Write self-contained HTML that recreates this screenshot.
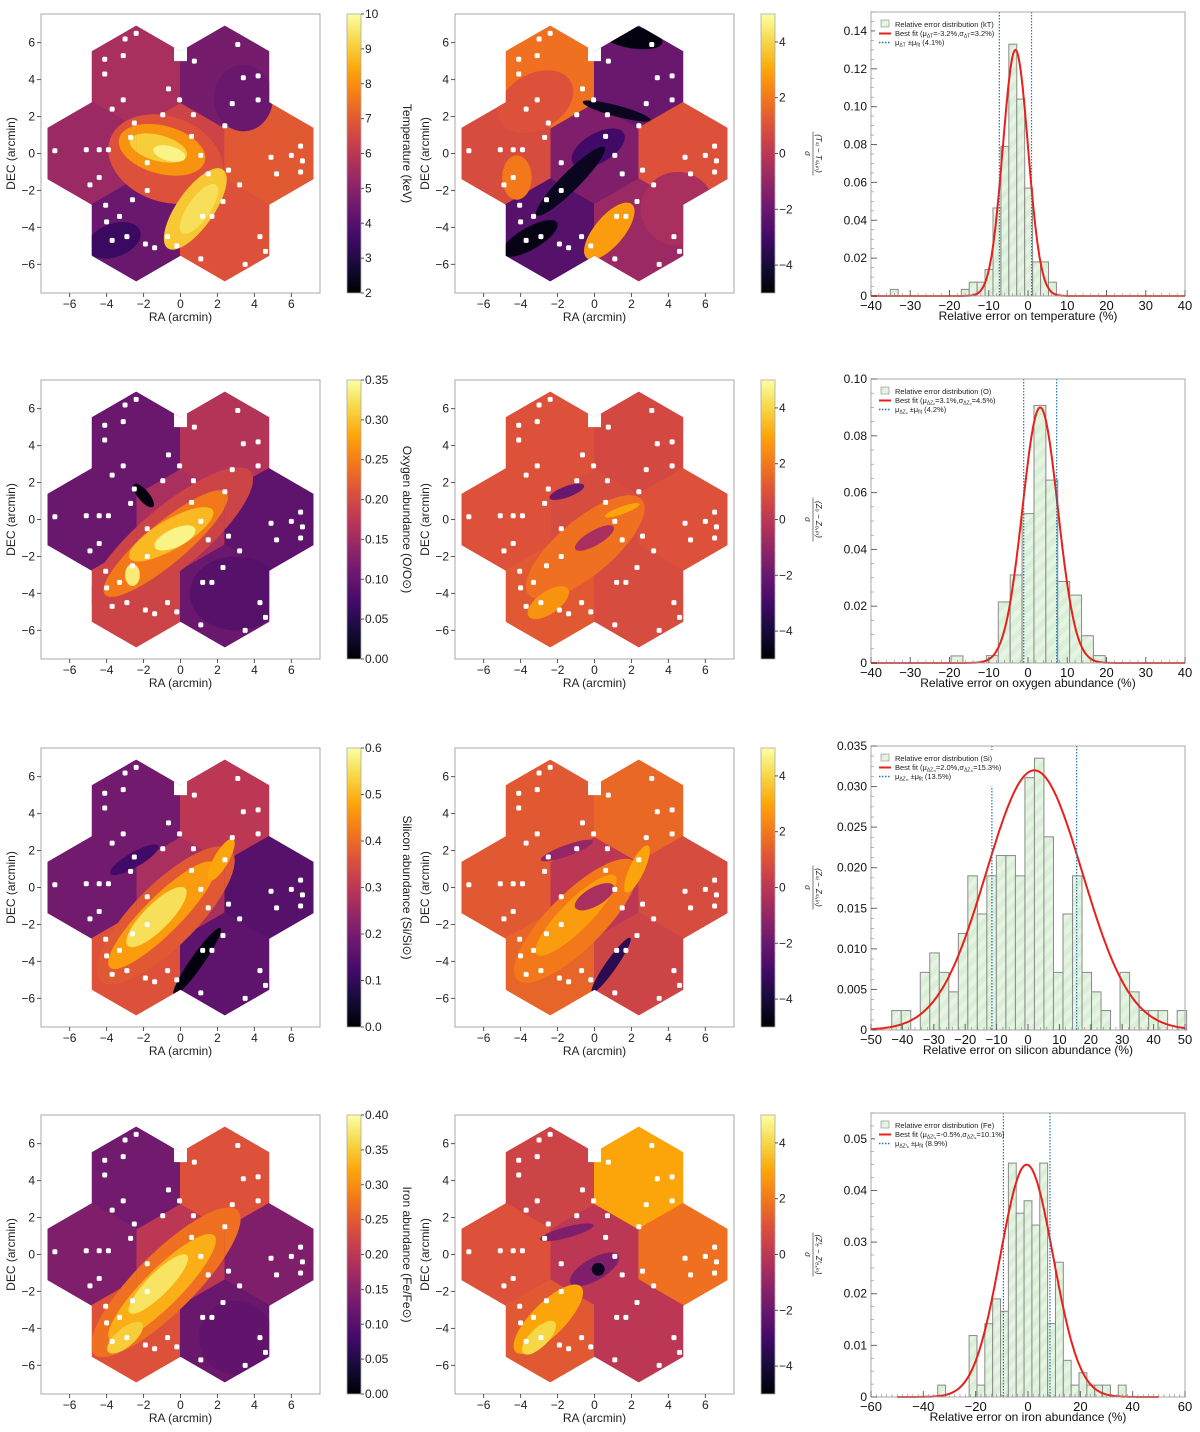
<!DOCTYPE html>
<html><head><meta charset="utf-8"><style>
html,body{margin:0;padding:0;background:#fff;}
svg text{font-family:"Liberation Sans","DejaVu Sans",sans-serif;}
</style></head><body>
<svg id="fig" xmlns="http://www.w3.org/2000/svg" width="1200" height="1427" viewBox="0 0 1200 1427">
<defs>
<linearGradient id="infgrad" x1="0" y1="1" x2="0" y2="0">
<stop offset="0" stop-color="#000004"/><stop offset="0.1" stop-color="#160b39"/><stop offset="0.2" stop-color="#420a68"/><stop offset="0.3" stop-color="#6a176e"/><stop offset="0.4" stop-color="#932667"/><stop offset="0.5" stop-color="#bc3754"/><stop offset="0.6" stop-color="#dd513a"/><stop offset="0.7" stop-color="#f37819"/><stop offset="0.8" stop-color="#fca50a"/><stop offset="0.9" stop-color="#f6d746"/><stop offset="1" stop-color="#fcffa4"/>
</linearGradient>
<pattern id="hatch" patternUnits="userSpaceOnUse" width="10" height="10" patternTransform="rotate(45)">
<rect width="10" height="10" fill="#d9efd6"/><rect width="5" height="10" fill="#e6f4e3"/>
</pattern>
</defs>
</svg>
<script>
// ---------- histogram data ----------
const histT_start = -17.0, histT_width = 2.02;
const histT_heights = [0.0035,0.0073,0.0073,0.014,0.0465,0.079,0.133,0.104,0.057,0.018,0.018,0.0073];
const histT_extraLefts = [-35.1];
const histT_extraHeights = [0.0035];
const histO_start = -10.6, histO_width = 3.03;
const histO_heights = [0.0026,0.0215,0.031,0.0526,0.0907,0.0644,0.0287,0.0239,0.0096,0.0026];
const histO_extraLefts = [-19.6];
const histO_extraHeights = [0.0025];
const histSi_start = -43.4, histSi_width = 3.03;
const histSi_heights = [0.0024,0.0024,0,0.0071,0.0095,0.0071,0.0047,0.0119,0.019,0.0143,0.019,0.0215,0.0215,0.019,0.0311,0.0335,0.0238,0.0071,0.0143,0.019,0.0071,0.0047,0.0024,0,0.0071,0.0047,0.0024,0.0024,0.0024,0,0.0024];
const histSi_extraLefts = [];
const histSi_extraHeights = [];
const histFe_start = -34.5, histFe_width = 3.0;
const histFe_heights = [0.0023,0,0,0,0.0119,0.0023,0.0142,0.019,0.0166,0.0453,0.0356,0.038,0.0333,0.0453,0.0142,0.0261,0.0071,0.0023,0.0047,0.0023,0.0023,0.0023,0,0.0023];
const histFe_extraLefts = [];
const histFe_extraHeights = [];
// fit parameters: [mu, sigma, amplitude, uncertainty]
const fitT = [-3.2, 3.2, 0.130, 4.1];
const fitO = [3.1, 4.5, 0.090, 4.2];
const fitSi = [2.0, 15.3, 0.032, 13.5];
const fitFe = [-0.5, 10.1, 0.045, 8.9];
const xTicksT = [-40,-30,-20,-10,0,10,20,30,40];
const xTicksSi = [-50,-40,-30,-20,-10,0,10,20,30,40,50];
const xTicksFe = [-60,-40,-20,0,20,40,60];
const yTicksT = [0,0.02,0.04,0.06,0.08,0.10,0.12,0.14];
const yTicksO = [0,0.02,0.04,0.06,0.08,0.10];
const yTicksSi = [0,0.005,0.010,0.015,0.020,0.025,0.030,0.035];
const yTicksFe = [0,0.01,0.02,0.03,0.04,0.05];
const yTickLabT = ["0","0.02","0.04","0.06","0.08","0.10","0.12","0.14"];
const yTickLabO = ["0","0.02","0.04","0.06","0.08","0.10"];
const yTickLabSi = ["0","0.005","0.010","0.015","0.020","0.025","0.030","0.035"];
const yTickLabFe = ["0","0.01","0.02","0.03","0.04","0.05"];

// ---------- map data (inferno fractions) ----------
// hex order: C, TL, TR, L, R, BL, BR
const hexCentersX = [0,-2.4,2.4,-4.8,4.8,-2.4,2.4];
const hexCentersY = [0,4.15,4.15,0,0,-4.15,-4.15];
const holesX = [-6.8,-5.1,-4.4,-3.9,-3.1,-3.7,-4.1,-4.1,-3.0,-2.4,-3.1,-0.65,-0.05,-0.96,0.7,0.6,1.1,-2.5,-2.7,-1.8,-4.4,-4.9,-2.6,-1.8,-4.05,-3.3,-4.0,-3.7,-2.9,-1.9,-1.4,-0.2,-0.7,1.5,2.6,3.2,2.3,1.2,1.7,1.1,3.5,4.3,4.6,5.2,6.5,6.6,6.0,4.9,6.5,2.8,4.2,3.4,4.2,3.1,0.75,2.4];
const holesY = [0.15,0.2,0.2,0.2,2.9,2.4,4.3,5.1,6.2,6.5,5.3,3.5,2.9,2.1,2.1,0.93,-0.1,1.65,0.87,-0.5,-1.3,-1.7,-2.5,-2.0,-2.8,-3.4,-3.7,-4.7,-4.5,-4.9,-5.1,-5.0,-4.5,-1.1,-0.9,-1.7,-2.6,-3.4,-3.4,-5.7,-6.0,-4.5,-5.3,-1.1,-1.0,-0.4,-0.1,-0.2,0.4,2.7,2.9,4.1,4.2,5.9,5.0,1.5];
const mapT_hex = [0.55,0.45,0.33,0.42,0.62,0.3,0.6];
const mapT_blobs = [[-0.8,-0.3,3.2,2.3,-20,0.6],[3.4,3.0,1.6,1.8,0,0.3],[-3.6,-4.7,1.5,0.9,20,0.18],[-1.0,0.2,2.4,1.3,-15,0.76],[-1.2,0.3,1.6,0.7,-15,0.88],[-0.6,0.0,0.9,0.4,-15,0.97],[0.8,-3.0,2.6,1.0,55,0.87],[1.0,-3.0,1.6,0.6,55,0.92]];
const mapTd_hex = [0.35,0.68,0.3,0.58,0.6,0.25,0.42];
const mapTd_blobs = [[-3.2,2.8,2.2,1.5,30,0.6],[-4.2,-1.3,0.8,1.2,0,0.7],[2.0,6.3,1.7,0.6,-10,0.02],[1.2,2.3,1.9,0.3,-15,0.05],[0.2,0.3,1.6,0.8,30,0.2],[-1.3,-1.5,2.6,0.5,45,0.05],[-3.5,-4.6,1.7,0.6,30,0.03],[0.8,-4.2,1.9,0.8,50,0.78],[4.5,-3.0,2.0,2.0,0,0.45]];
const mapO_hex = [0.45,0.3,0.48,0.3,0.27,0.55,0.3];
const mapO_blobs = [[3.0,-4.0,2.5,2.0,0,0.25],[-0.5,-1.0,5.6,1.7,40,0.55],[-0.8,-1.3,4.3,1.1,40,0.7],[-0.5,-0.8,2.6,0.8,30,0.84],[-0.3,-1.0,1.2,0.5,25,0.97],[-2.6,-3.0,0.4,0.6,0,0.95],[-2.0,1.3,0.3,0.8,40,0.02]];
const mapOd_hex = [0.58,0.6,0.57,0.6,0.6,0.62,0.58];
const mapOd_blobs = [[-0.5,-1.5,4.0,1.5,40,0.68],[-1.5,1.5,1.0,0.3,20,0.3],[-2.5,-4.5,1.3,0.6,35,0.76],[1.5,0.5,1.0,0.2,20,0.8],[0,-1.0,1.2,0.4,30,0.45]];
const mapSi_hex = [0.45,0.32,0.5,0.32,0.25,0.6,0.27];
const mapSi_blobs = [[-2.5,1.5,1.5,0.4,30,0.2],[-0.8,-1.5,5.0,1.7,45,0.62],[-1.0,-1.5,4.0,1.0,45,0.78],[-1.3,-1.6,2.2,0.7,45,0.92],[2.2,1.5,1.3,0.4,60,0.8],[0.9,-4.0,2.2,0.35,55,0.02]];
const mapSid_hex = [0.5,0.62,0.66,0.62,0.58,0.65,0.55];
const mapSid_blobs = [[-1.5,2.0,1.5,0.3,20,0.4],[-1.0,-1.8,4.5,1.5,45,0.7],[-1.0,-1.5,3.0,0.8,45,0.78],[2.3,1.0,1.4,0.4,65,0.8],[0.9,-4.2,1.8,0.3,55,0.15],[0,-0.5,1.2,0.5,30,0.45]];
const mapFe_hex = [0.5,0.32,0.6,0.35,0.35,0.6,0.3];
const mapFe_blobs = [[3.0,-4.5,2.0,2.0,0,0.28],[-0.8,-1.5,5.5,1.6,45,0.68],[-1.0,-1.8,4.0,1.0,45,0.82],[-1.2,-1.6,2.2,0.6,45,0.93],[-3.0,-4.5,1.2,0.5,40,0.88]];
const mapFed_hex = [0.5,0.55,0.8,0.6,0.68,0.62,0.5];
const mapFed_blobs = [[-1.5,1.2,1.5,0.3,15,0.35],[0,-0.8,1.5,0.6,30,0.35],[-2.5,-3.5,2.5,0.9,45,0.8],[-3.0,-4.5,1.2,0.5,45,0.9],[0.2,-0.8,0.35,0.35,0,0.05]];

const mapTicks = [-6,-4,-2,0,2,4,6];
const cbT_ticks = [2,3,4,5,6,7,8,9,10];
const cbO_ticks = [0,0.05,0.10,0.15,0.20,0.25,0.30,0.35];
const cbSi_ticks = [0,0.1,0.2,0.3,0.4,0.5,0.6];
const cbFe_ticks = [0,0.05,0.10,0.15,0.20,0.25,0.30,0.35,0.40];
const cbD_ticks = [-4,-2,0,2,4];

const NS = "http://www.w3.org/2000/svg";
const svg = document.getElementById('fig');
function el(tag, attrs, parent){ const e=document.createElementNS(NS,tag); for(const k in attrs) e.setAttribute(k,attrs[k]); (parent||svg).appendChild(e); return e; }
const INF=[[0,0,4],[22,11,57],[66,10,104],[106,23,110],[147,38,103],[188,55,84],[221,81,58],[243,120,25],[252,165,10],[246,215,70],[252,255,164]];
function inf(t){ t=Math.max(0,Math.min(1,t)); const f=t*10, i=Math.min(9,Math.floor(f)), r=f-i; const a=INF[i], b=INF[i+1]; return 'rgb('+a.map((v,k)=>Math.round(v+(b[k]-v)*r)).join(',')+')'; }
function fmtNum(v){ return (v<0?'\u2212':'')+Math.abs(v); }

let clipN=0;
function drawMap(left, top, hexVals, blobs, cbTicks, cbMin, cbMax, cbLabelFn, name){
  const W=279, S=W/15.1;
  const sx=x=>left+(x+7.55)*S, sy=y=>top+(7.55-y)*S;
  const g=el('g',{});  
  const cid='clip'+(clipN++);
  const cp=el('clipPath',{id:cid},g);
  const R=2.77;
  function hexPts(cx,cy){ let p=[]; for(let k=0;k<6;k++){ const a=(30+60*k)*Math.PI/180; p.push(sx(cx+R*Math.cos(a)).toFixed(1)+','+sy(cy+R*Math.sin(a)).toFixed(1)); } return p.join(' '); }
  hexCentersX.forEach((cx,i)=>{ el('polygon',{points:hexPts(cx,hexCentersY[i])},cp); });
  const inner=el('g',{'clip-path':'url(#'+cid+')'},g);
  hexCentersX.forEach((cx,i)=>{ const p=el('polygon',{points:hexPts(cx,hexCentersY[i]),fill:inf(hexVals[i]),stroke:inf(hexVals[i]),'stroke-width':1},inner);
      });
  blobs.forEach(b=>{ const e=el('ellipse',{cx:sx(b[0]),cy:sy(b[1]),rx:b[2]*S,ry:b[3]*S,transform:'rotate('+(-b[4])+' '+sx(b[0])+' '+sy(b[1])+')',fill:inf(b[5])},inner);
      });
  holesX.forEach((hx,i)=>{ const r=el('rect',{x:sx(hx)-2.5,y:sy(holesY[i])-2.5,width:5,height:5,rx:1.5,fill:'#fff'},inner);
      });
  el('rect',{x:sx(-0.35),y:sy(5.9),width:0.7*S,height:0.9*S,fill:'#fff'},inner);
  const fr=el('rect',{x:left,y:top,width:W,height:W,fill:'none',stroke:'#aaa','stroke-width':1},g);
   
  mapTicks.forEach(t=>{
    el('line',{x1:sx(t),x2:sx(t),y1:top+W,y2:top+W+4,stroke:'#555'},g);
    const tx=el('text',{x:sx(t),y:top+W+15,'font-size':12,'text-anchor':'middle',fill:'#222'},g); tx.textContent=fmtNum(t);
     
    el('line',{x1:left-4,x2:left,y1:sy(t),y2:sy(t),stroke:'#555'},g);
    const ty=el('text',{x:left-6,y:sy(t)+4,'font-size':12,'text-anchor':'end',fill:'#222'},g); ty.textContent=fmtNum(t);
     
  });
  const xl=el('text',{x:left+W/2,y:top+W+28,'font-size':12,'text-anchor':'middle',fill:'#222'},g); xl.textContent='RA (arcmin)';
   
  const yl=el('text',{x:0,y:0,'font-size':12,'text-anchor':'middle',fill:'#222',transform:'translate('+(left-26)+','+(top+W/2)+') rotate(-90)'},g); yl.textContent='DEC (arcmin)';
   
  const cx0=left+W+27, cw=14;
  const cb=el('rect',{x:cx0,y:top,width:cw,height:W,fill:'url(#infgrad)',stroke:'#aaa','stroke-width':0.8},g);
   
  cbTicks.forEach(t=>{ const yy=top+W-(t-cbMin)/(cbMax-cbMin)*W;
    el('line',{x1:cx0+cw,x2:cx0+cw+3,y1:yy,y2:yy,stroke:'#555'},g);
    const tt=el('text',{x:cx0+cw+4,y:yy+4,'font-size':12,fill:'#222'},g);
    tt.textContent = (cbMax<=1 ? t.toFixed(cbMax===0.6?1:2) : fmtNum(t));
      });
  cbLabelFn(g, cx0+cw+42, top+W/2);
}
function cbLabel(text){ return (g,x,y)=>{ const t=el('text',{x:0,y:0,'font-size':12,'text-anchor':'middle',fill:'#222',transform:'translate('+(x)+','+y+') rotate(90)'},g); t.textContent=text;
    }; }
function cbFrac(num){ return (g,x,y)=>{ const gg=el('g',{transform:'translate('+(x-4)+','+y+') rotate(90)'},g);
   
  const a=el('text',{x:0,y:-3,'font-size':8,'text-anchor':'middle',fill:'#222','font-style':'italic'},gg); a.textContent=num;
  el('line',{x1:-22,x2:22,y1:0,y2:0,stroke:'#222','stroke-width':0.6},gg);
  const b=el('text',{x:0,y:8,'font-size':8,'text-anchor':'middle',fill:'#222','font-style':'italic'},gg); b.textContent='\u03c3'; }; }

function drawHist(top, xmin, xmax, ymax, start, width, heights, extraL, extraH, fit, xTicks, yTicks, yLabs, xlabel, legName, sub, name){
  const L=871, Rr=1185, B=top+284;
  const X=v=>L+(v-xmin)/(xmax-xmin)*(Rr-L), Y=v=>B-v/ymax*(B-top);
  const g=el('g',{});  
  const lefts=[], hs=[];
  extraL.forEach((l,i)=>{lefts.push(l); hs.push(extraH[i]);});
  heights.forEach((h,i)=>{lefts.push(start+i*width); hs.push(h);});
  lefts.forEach((l,i)=>{ if(hs[i]<=0) return;
    const r=el('rect',{x:X(l),y:Y(hs[i]),width:X(l+width)-X(l),height:B-Y(hs[i]),fill:'url(#hatch)',stroke:'#8a8a8a','stroke-width':1},g);
      });
  const mu=fit[0], sg=fit[1], amp=fit[2], du=fit[3];
  let d='', lo=(xmin<-50?-50:xmin), hi=(xmax>50?50:xmax);
  for(let i=0;i<=300;i++){ const v=lo+(hi-lo)*i/300; const y=amp*Math.exp(-0.5*((v-mu)/sg)**2); d+=(i?'L':'M')+X(v).toFixed(1)+','+Y(y).toFixed(1); }
  const c=el('path',{d:d,fill:'none',stroke:'#e8201a','stroke-width':2},g);
   
  [mu-du, mu+du].forEach(v=>{ const l=el('line',{x1:X(v),x2:X(v),y1:top,y2:B,stroke:'#1f77b4','stroke-width':1.2,'stroke-dasharray':'1.5,1.5'},g);
      });
  el('rect',{x:L,y:top,width:Rr-L,height:B-top,fill:'none',stroke:'#aaa'},g);
  const minorX=(xTicks[1]-xTicks[0])/5;
  for(let v=xmin; v<=xmax+1e-9; v+=minorX/ (xTicks[1]-xTicks[0]>10?2:1)){ el('line',{x1:X(v),x2:X(v),y1:B,y2:B-3,stroke:'#888','stroke-width':0.6},g); }
  xTicks.forEach(t=>{ el('line',{x1:X(t),x2:X(t),y1:B,y2:B-6,stroke:'#666'},g);
    const tx=el('text',{x:X(t),y:B+14,'font-size':13,'text-anchor':'middle',fill:'#111'},g); tx.textContent=fmtNum(t);
      });
  const dy=yTicks[1]-yTicks[0];
  for(let v=0; v<=ymax+1e-9; v+=dy/4){ el('line',{x1:L,x2:L+3,y1:Y(v),y2:Y(v),stroke:'#888','stroke-width':0.6},g); }
  yTicks.forEach((t,i)=>{ el('line',{x1:L,x2:L+6,y1:Y(t),y2:Y(t),stroke:'#666'},g);
    const ty=el('text',{x:L-4,y:Y(t)+4,'font-size':12,'text-anchor':'end',fill:'#111'},g); ty.textContent=yLabs[i];
      });
  const xl=el('text',{x:(L+Rr)/2,y:B+24,'font-size':12,'text-anchor':'middle',fill:'#111'},g); xl.textContent=xlabel;
   
  const lg=el('g',{},g);  
  el('rect',{x:L+4,y:top+4,width:120,height:36,fill:'#fff'},lg);
  el('rect',{x:L+10,y:top+8,width:8,height:7,fill:'url(#hatch)',stroke:'#8a8a8a','stroke-width':0.6},lg);
  el('line',{x1:L+8,x2:L+20,y1:top+21.5,y2:top+21.5,stroke:'#e8201a','stroke-width':2},lg);
  el('line',{x1:L+8,x2:L+20,y1:top+30.5,y2:top+30.5,stroke:'#1f77b4','stroke-width':1.5,'stroke-dasharray':'1.5,1.5'},lg);
  const t1=el('text',{x:L+24,y:top+15,'font-size':7.5,fill:'#222'},lg); t1.textContent='Relative error distribution ('+legName+')';
   
  const t2=el('text',{x:L+24,y:top+24,'font-size':7.5,fill:'#222'},lg);
   
  t2.innerHTML='Best fit (\u03bc<tspan font-size="5" dy="1.5">'+sub+'</tspan><tspan dy="-1.5">='+mu.toFixed(1)+'%,\u03c3</tspan><tspan font-size="5" dy="1.5">'+sub+'</tspan><tspan dy="-1.5">='+sg.toFixed(1)+'%)</tspan>';
  const t3=el('text',{x:L+24,y:top+33,'font-size':7.5,fill:'#222'},lg);
   
  t3.innerHTML='\u03bc<tspan font-size="5" dy="1.5">'+sub+'</tspan><tspan dy="-1.5"> \u00b1\u03bc</tspan><tspan font-size="5" dy="1.5">fit</tspan><tspan dy="-1.5"> ('+du.toFixed(1)+'%)</tspan>';
}

const mapTops=[14,380,748,1115];
drawMap(41,mapTops[0],mapT_hex,mapT_blobs,cbT_ticks,2,10,cbLabel('Temperature (keV)'),'temperature');
drawMap(455,mapTops[0],mapTd_hex,mapTd_blobs,cbD_ticks,-5,5,cbFrac('(T\u209b\u1d62 \u2212 T\u209b\u1d62,\u1d62\u2099)'),'temperature-deviation');
drawMap(41,mapTops[1],mapO_hex,mapO_blobs,cbO_ticks,0,0.35,cbLabel('Oxygen abundance (O/O\u2299)'),'oxygen');
drawMap(455,mapTops[1],mapOd_hex,mapOd_blobs,cbD_ticks,-5,5,cbFrac('(Z\u2092 \u2212 Z\u2092,\u1d62\u2099)'),'oxygen-deviation');
drawMap(41,mapTops[2],mapSi_hex,mapSi_blobs,cbSi_ticks,0,0.6,cbLabel('Silicon abundance (Si/Si\u2299)'),'silicon');
drawMap(455,mapTops[2],mapSid_hex,mapSid_blobs,cbD_ticks,-5,5,cbFrac('(Z\u209b\u1d62 \u2212 Z\u209b\u1d62,\u1d62\u2099)'),'silicon-deviation');
drawMap(41,mapTops[3],mapFe_hex,mapFe_blobs,cbFe_ticks,0,0.40,cbLabel('Iron abundance (Fe/Fe\u2299)'),'iron');
drawMap(455,mapTops[3],mapFed_hex,mapFed_blobs,cbD_ticks,-5,5,cbFrac('(Z\u1da0\u2091 \u2212 Z\u1da0\u2091,\u1d62\u2099)'),'iron-deviation');

drawHist(12,-40,40,0.15,histT_start,histT_width,histT_heights,histT_extraLefts,histT_extraHeights,fitT,xTicksT,yTicksT,yTickLabT,'Relative error on temperature (%)','kT','\u0394T','temperature');
drawHist(379,-40,40,0.10,histO_start,histO_width,histO_heights,histO_extraLefts,histO_extraHeights,fitO,xTicksT,yTicksO,yTickLabO,'Relative error on oxygen abundance (%)','O','\u0394Z\u2092','oxygen');
drawHist(746,-50,50,0.035,histSi_start,histSi_width,histSi_heights,histSi_extraLefts,histSi_extraHeights,fitSi,xTicksSi,yTicksSi,yTickLabSi,'Relative error on silicon abundance (%)','Si','\u0394Z\u209b\u1d62','silicon');
drawHist(1113,-60,60,0.055,histFe_start,histFe_width,histFe_heights,histFe_extraLefts,histFe_extraHeights,fitFe,xTicksFe,yTicksFe,yTickLabFe,'Relative error on iron abundance (%)','Fe','\u0394Z\u1da0\u2091','iron');
</script>
</body></html>
